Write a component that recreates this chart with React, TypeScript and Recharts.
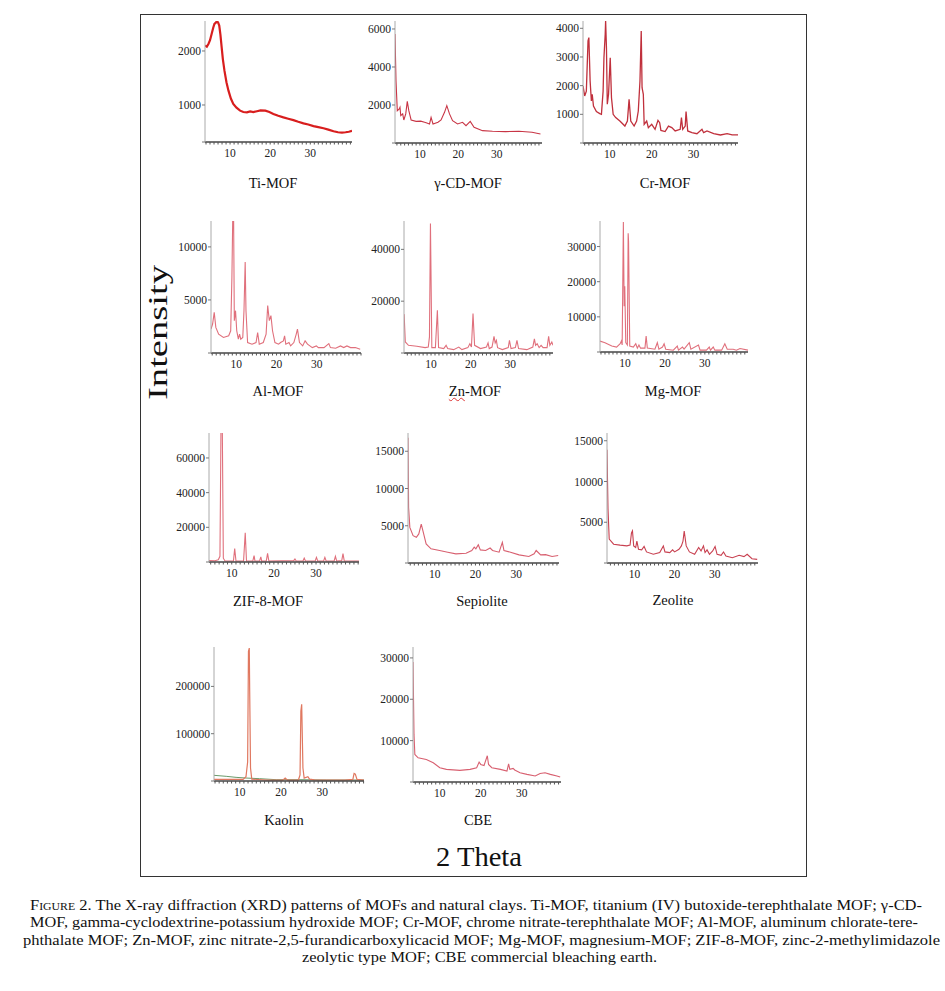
import { LineChart, Line, XAxis, YAxis } from "recharts";

type Pt = [number, number];

// 2θ / intensity pairs
const TI_MOF: Pt[] = [
  [3.75, 2100], [4.2, 2080], [4.6, 2130], [5.0, 2200], [5.4, 2315], [5.8, 2430], [6.1, 2500],
  [6.4, 2520], [6.7, 2550], [7.0, 2530], [7.3, 2470], [7.6, 2300], [7.9, 2070], [8.2, 1850],
  [8.6, 1635], [9.1, 1420], [9.6, 1265], [10.2, 1120], [10.8, 1020], [11.6, 950], [12.5, 895],
  [13.3, 870], [14.2, 865], [15.0, 880], [15.8, 870], [16.7, 885], [17.6, 900], [18.8, 895],
  [19.8, 870], [20.8, 835], [22.0, 800], [23.3, 770], [24.5, 745], [25.8, 720], [27.0, 690],
  [28.3, 660], [29.5, 640], [30.8, 610], [32.0, 590], [33.3, 570], [34.5, 545], [35.8, 515],
  [36.9, 495], [37.9, 490], [38.8, 495], [39.6, 505], [40.4, 520],
];

const GCD_MOF: Pt[] = [
  [3.5, 5735], [3.76, 3280], [4.1, 1700], [4.6, 1790], [4.8, 1880], [5.0, 1440], [5.5, 1530],
  [5.8, 1210], [6.3, 1530], [6.7, 2190], [7.1, 1700], [7.7, 1210], [9.0, 1140], [10.2, 1150],
  [11.2, 1090], [11.8, 1050], [12.5, 1000], [12.9, 1350], [13.4, 1000], [14.7, 1090],
  [15.5, 1210], [16.4, 1615], [17.0, 1965], [17.7, 1530], [18.5, 1175], [19.8, 1000],
  [21.1, 1090], [22.0, 910], [23.1, 1140], [24.1, 825], [26.3, 650], [28.9, 615], [32.3, 600],
  [35.8, 615], [39.2, 565], [41.4, 475],
];

const CR_MOF: Pt[] = [
  [3.6, 1990], [4.0, 1640], [4.4, 1810], [4.8, 3560], [5.0, 3675], [5.3, 2160], [5.6, 1465],
  [5.8, 1700], [6.1, 1290], [6.8, 1095], [7.6, 1025], [8.0, 1000], [8.4, 1810], [8.6, 2975],
  [8.9, 3790], [9.0, 4255], [9.2, 3325], [9.4, 1350], [9.7, 1700], [10.1, 2975], [10.4, 1580],
  [10.8, 1000], [11.4, 885], [12.4, 765], [13.6, 590], [14.2, 765], [14.6, 1520], [15.0, 765],
  [15.8, 590], [16.4, 765], [16.8, 1115], [17.2, 2160], [17.5, 3905], [17.7, 1930],
  [18.0, 1700], [18.2, 650], [18.8, 765], [19.2, 535], [20.0, 650], [20.8, 475], [21.5, 790],
  [21.9, 710], [22.2, 440], [23.2, 400], [24.0, 590], [24.8, 535], [25.6, 420], [26.8, 475],
  [27.1, 885], [27.4, 475], [28.0, 590], [28.2, 1095], [28.6, 420], [29.6, 360], [30.8, 325],
  [32.0, 475], [32.4, 360], [33.2, 420], [34.8, 325], [36.4, 280], [38.0, 325], [39.2, 280],
  [40.6, 280],
];

const AL_MOF: Pt[] = [
  [3.7, 2255], [4.1, 2730], [4.5, 3830], [4.9, 2410], [5.6, 1780], [6.8, 1460], [8.1, 1620],
  [8.6, 2095], [8.9, 7150], [9.15, 14000], [9.3, 14000], [9.5, 3045], [9.8, 3990], [10.1, 2095],
  [10.5, 1300], [10.8, 1780], [11.1, 1300], [11.6, 1460], [11.9, 3990], [12.2, 8575],
  [12.4, 3990], [12.8, 985], [13.9, 830], [14.9, 985], [15.3, 1935], [15.7, 830], [16.7, 985],
  [17.4, 1780], [17.8, 4465], [18.2, 3045], [18.6, 3520], [19.0, 2095], [19.6, 985],
  [20.5, 830], [21.0, 985], [21.7, 1145], [22.0, 1620], [22.3, 830], [23.1, 985], [23.5, 670],
  [24.3, 985], [24.9, 1780], [25.2, 2255], [25.7, 985], [26.5, 670], [27.1, 1145], [27.7, 830],
  [28.9, 510], [29.9, 670], [30.4, 510], [31.8, 510], [33.0, 890], [33.4, 510], [34.7, 450],
  [35.9, 670], [36.7, 510], [37.5, 670], [38.4, 510], [39.6, 510], [40.8, 355],
];

const ZN_MOF: Pt[] = [
  [3.2, 15000], [3.5, 4250], [4.3, 2960], [6.4, 2580], [8.5, 2070], [9.3, 2300], [9.6, 6200],
  [9.85, 50000], [10.2, 2070], [11.1, 2070], [11.6, 16500], [11.9, 2070], [13.2, 1700],
  [13.8, 2960], [14.2, 1700], [15.7, 1300], [17.0, 2300], [17.8, 1300], [19.3, 2070],
  [19.8, 3600], [20.2, 2300], [20.6, 15200], [21.0, 2960], [22.5, 1700], [24.0, 2300],
  [24.4, 3900], [24.7, 1700], [25.4, 2300], [25.9, 6450], [26.2, 3900], [26.5, 4900],
  [26.8, 2070], [28.0, 1300], [29.5, 2070], [29.8, 4900], [30.2, 1700], [31.3, 2070],
  [31.7, 4900], [32.1, 1700], [34.2, 1300], [35.7, 2300], [36.1, 5450], [36.4, 2960],
  [36.8, 3600], [37.3, 2070], [37.8, 2960], [38.3, 2070], [39.3, 2070], [39.7, 6450],
  [40.0, 2960], [40.5, 4250], [40.8, 2960],
];

const MG_MOF: Pt[] = [
  [3.75, 3100], [5.0, 2650], [6.7, 1700], [7.9, 1400], [8.8, 2350], [9.1, 3100], [9.3, 2000],
  [9.6, 37000], [9.8, 13000], [9.95, 18700], [10.2, 2650], [10.6, 2000], [10.8, 33800],
  [10.9, 31400], [11.2, 1700], [12.1, 1400], [12.7, 2350], [13.1, 1100], [13.5, 2000],
  [13.9, 1100], [15.0, 1100], [15.3, 4530], [15.6, 1100], [17.5, 800], [18.1, 2650],
  [18.5, 800], [19.4, 1400], [19.8, 2350], [20.2, 800], [22.1, 520], [23.1, 1700], [23.4, 520],
  [24.4, 1400], [24.8, 800], [26.1, 2650], [26.5, 800], [28.4, 2000], [28.8, 520], [30.4, 520],
  [31.1, 1400], [31.4, 520], [32.1, 1400], [32.5, 520], [34.2, 520], [35.0, 2350], [35.6, 800],
  [37.1, 800], [37.9, 520], [38.8, 1000], [40.8, 520],
];

const ZIF8_MOF: Pt[] = [
  [4.6, 800], [6.0, 700], [6.8, 1300], [7.2, 3300], [7.45, 80000], [7.75, 80000], [8.0, 2200],
  [8.4, 600], [10.4, 600], [10.7, 7700], [11.0, 600], [12.8, 600], [13.2, 16800], [13.5, 600],
  [15.0, 600], [15.3, 3700], [15.5, 600], [16.6, 600], [16.9, 3000], [17.1, 600], [18.2, 600],
  [18.5, 5000], [18.8, 600], [24.7, 800], [25.0, 1700], [25.3, 600], [26.9, 600], [27.2, 2200],
  [27.5, 600], [29.8, 600], [30.1, 2700], [30.4, 600], [31.8, 600], [32.1, 2700], [32.4, 600],
  [34.3, 600], [34.6, 3300], [34.9, 600], [36.1, 800], [36.4, 4800], [36.7, 600], [40.2, 600],
];

const SEPIOLITE: Pt[] = [
  [3.45, 16800], [3.6, 7450], [3.9, 4780], [4.7, 3670], [5.5, 3450], [6.1, 3900], [6.7, 5230],
  [7.1, 4340], [7.9, 2560], [9.1, 1900], [11.2, 1680], [13.2, 1450], [15.2, 1230], [17.7, 1300],
  [19.1, 1680], [19.7, 2120], [20.1, 1900], [20.7, 2450], [21.2, 1760], [22.5, 1680],
  [23.6, 2010], [24.2, 1680], [25.8, 1450], [26.6, 2780], [27.0, 1680], [28.6, 1450],
  [30.7, 1090], [33.1, 870], [34.4, 1230], [34.9, 1680], [36.0, 1090], [37.2, 1120],
  [38.8, 870], [40.3, 1000],
];

const ZEOLITE: Pt[] = [
  [3.15, 13900], [3.4, 6650], [3.7, 2930], [4.8, 2310], [6.4, 2190], [8.1, 2100], [8.9, 2190],
  [9.25, 3700], [9.5, 3950], [9.8, 2100], [10.3, 1900], [10.6, 2690], [11.0, 1690], [11.8, 1610],
  [12.4, 2030], [13.0, 1360], [14.7, 1070], [16.3, 1280], [17.2, 2100], [17.6, 1360],
  [18.8, 1280], [19.5, 1610], [20.0, 1360], [21.1, 1690], [21.7, 2100], [22.1, 2690],
  [22.4, 3930], [22.9, 2100], [23.7, 1360], [25.0, 1070], [26.0, 1900], [26.6, 1480],
  [27.2, 2100], [27.6, 1280], [28.1, 1610], [28.7, 1070], [29.5, 1480], [30.1, 2030],
  [30.6, 1070], [31.6, 940], [32.2, 1360], [32.8, 860], [34.4, 650], [36.1, 940], [37.3, 780],
  [38.1, 1070], [39.3, 530], [40.6, 450],
];

const KAOLIN: Pt[] = [
  [3.75, 3500], [10.8, 3500], [11.5, 9000], [11.9, 40000], [12.1, 274000], [12.3, 281000],
  [12.4, 190000], [12.6, 27500], [12.9, 4000], [16.5, 2000], [20.5, 2000], [21.0, 6000],
  [21.5, 2000], [24.2, 2000], [24.6, 13000], [24.8, 148000], [25.0, 162000], [25.3, 27500],
  [25.6, 6000], [26.5, 9000], [26.9, 4000], [28.1, 2500], [35.4, 2000], [37.4, 3500],
  [37.7, 16000], [38.0, 14500], [38.4, 3500], [40.1, 2000],
];

const KAOLIN_BASE: Pt[] = [
  [3.75, 12000], [6.7, 9900], [9.1, 7700], [11.5, 6300], [14.8, 4900], [18.8, 2800],
  [24.6, 2800], [31.1, 2100], [40.1, 2100],
];

const CBE: Pt[] = [
  [3.45, 29000], [3.7, 11450], [3.9, 6650], [4.7, 5850], [6.7, 5450], [8.4, 4650], [10.0, 3450],
  [11.6, 3050], [14.9, 2810], [17.4, 3050], [19.0, 3450], [19.6, 4800], [20.0, 4250],
  [20.8, 4000], [21.6, 6340], [21.9, 4250], [22.7, 3450], [24.8, 3050], [26.4, 2650],
  [26.8, 4400], [27.1, 3050], [27.9, 3300], [28.3, 2900], [29.6, 2250], [31.3, 1850],
  [33.3, 1450], [34.5, 2050], [35.7, 2250], [37.0, 1850], [38.6, 1450], [39.4, 1200],
];

const X_LABELS = [10, 20, 30];

const CAPTION = [
  "The X-ray diffraction (XRD) patterns of MOFs and natural clays. Ti-MOF, titanium (IV) butoxide-terephthalate MOF; γ-CD-",
  "MOF, gamma-cyclodextrine-potassium hydroxide MOF; Cr-MOF, chrome nitrate-terephthalate MOF; Al-MOF, aluminum chlorate-tere-",
  "phthalate MOF; Zn-MOF, zinc nitrate-2,5-furandicarboxylicacid MOF; Mg-MOF, magnesium-MOF; ZIF-8-MOF, zinc-2-methylimidazole",
  "zeolytic type MOF; CBE commercial bleaching earth.",
];

type Series = { pts: Pt[]; color: string; width: number };
type PanelSpec = {
  title: string;
  box: [number, number, number, number]; // plot area on the page
  xDomain: [number, number];
  yDomain: [number, number];
  yTicks: number[];
  series: Series[];
  label: [number, number];
  squiggle?: boolean;
};

const PINK = "#e0707c";

const PANELS: PanelSpec[] = [
  { title: "Ti-MOF", box: [205, 21, 352, 142], xDomain: [3.75, 40.4], yDomain: [315, 2555], yTicks: [315, 1000, 2000], series: [{ pts: TI_MOF, color: "#d81e1e", width: 2.2 }], label: [273, 183] },
  { title: "γ-CD-MOF", box: [395, 21, 542, 143], xDomain: [3.5, 41.8], yDomain: [0, 6420], yTicks: [0, 2000, 4000, 6000], series: [{ pts: GCD_MOF, color: "#c83545", width: 1.1 }], label: [468, 183] },
  { title: "Cr-MOF", box: [583, 21, 738, 143], xDomain: [3.6, 40.6], yDomain: [0, 4255], yTicks: [0, 1000, 2000, 3000, 4000], series: [{ pts: CR_MOF, color: "#c0303c", width: 1.3 }], label: [665, 183] },
  { title: "Al-MOF", box: [211, 221, 361, 353], xDomain: [3.7, 41.0], yDomain: [0, 12440], yTicks: [0, 5000, 10000], series: [{ pts: AL_MOF, color: PINK, width: 1.1 }], label: [278, 391] },
  { title: "Zn-MOF", box: [404, 221, 553, 353], xDomain: [3.17, 40.8], yDomain: [0, 50950], yTicks: [0, 20000, 40000], series: [{ pts: ZN_MOF, color: PINK, width: 1.1 }], label: [475, 391], squiggle: true },
  { title: "Mg-MOF", box: [600, 221, 748, 352], xDomain: [3.75, 40.8], yDomain: [0, 37270], yTicks: [0, 10000, 20000, 30000], series: [{ pts: MG_MOF, color: PINK, width: 1.1 }], label: [673, 391] },
  { title: "ZIF-8-MOF", box: [209, 433, 359, 562], xDomain: [4.6, 40.2], yDomain: [0, 74400], yTicks: [0, 20000, 40000, 60000], series: [{ pts: ZIF8_MOF, color: PINK, width: 1.1 }], label: [268, 601] },
  { title: "Sepiolite", box: [408, 433, 559, 563], xDomain: [3.45, 40.5], yDomain: [0, 17450], yTicks: [0, 5000, 10000, 15000], series: [{ pts: SEPIOLITE, color: "#d86070", width: 1.1 }], label: [482, 601] },
  { title: "Zeolite", box: [607, 433, 758, 563], xDomain: [3.15, 40.8], yDomain: [0, 15950], yTicks: [0, 5000, 10000, 15000], series: [{ pts: ZEOLITE, color: "#c84050", width: 1.1 }], label: [673, 600] },
  { title: "Kaolin", box: [214, 647, 364, 781], xDomain: [3.75, 40.1], yDomain: [0, 283300], yTicks: [0, 100000, 200000], series: [{ pts: KAOLIN_BASE, color: "#6a9a6a", width: 1 }, { pts: KAOLIN, color: "#e07860", width: 1.2 }], label: [284, 820] },
  { title: "CBE", box: [413, 647, 561, 782], xDomain: [3.45, 39.6], yDomain: [0, 32640], yTicks: [0, 10000, 20000, 30000], series: [{ pts: CBE, color: "#d86070", width: 1.1 }], label: [478, 820] },
];

const SERIF = "'Liberation Serif', 'Times New Roman', serif";
const GUTTER = 52;
const PAD = 3;
const X_AXIS_H = 24;

function Panel({ p }: { p: PanelSpec }) {
  const [x0, y0, x1, y1] = p.box;
  const w = x1 - x0 + GUTTER + PAD;
  const h = y1 - y0 + PAD + X_AXIS_H;
  // minor ticks every degree along the bottom edge
  const minor: number[] = [];
  for (let v = Math.ceil(p.xDomain[0]); v <= Math.floor(p.xDomain[1]); v++) minor.push(v);
  const tickFont = { fontSize: 11.5, fill: "#222", fontFamily: SERIF };
  return (
    <>
      <div style={{ position: "absolute", left: x0 - GUTTER, top: y0 - PAD }}>
        <LineChart width={w} height={h} margin={{ top: PAD, right: PAD, bottom: 0, left: 0 }}>
          <XAxis
            xAxisId="b"
            type="number"
            dataKey="x"
            domain={p.xDomain}
            allowDataOverflow
            ticks={minor}
            interval={0}
            tickFormatter={(v: number) => (X_LABELS.includes(v) ? String(v) : "")}
            tick={tickFont}
            tickSize={2.5}
            tickMargin={4}
            height={X_AXIS_H}
            axisLine={{ stroke: "#444", strokeWidth: 1.5 }}
            tickLine={{ stroke: "#555" }}
          />
          <XAxis
            xAxisId="t"
            orientation="top"
            type="number"
            domain={p.xDomain}
            allowDataOverflow
            height={0}
            tick={false}
            tickLine={false}
            axisLine={{ stroke: "#3a3a3a", strokeWidth: 2.5 }}
          />
          <YAxis
            yAxisId="l"
            type="number"
            domain={p.yDomain}
            allowDataOverflow
            ticks={p.yTicks}
            interval={0}
            tickFormatter={(v: number) => (v === p.yDomain[0] ? "" : String(v))}
            tick={tickFont}
            tickSize={3}
            tickMargin={1}
            width={GUTTER}
            axisLine={{ stroke: "#aaa" }}
            tickLine={{ stroke: "#777" }}
          />
          <YAxis
            yAxisId="r"
            orientation="right"
            type="number"
            domain={p.yDomain}
            allowDataOverflow
            width={0}
            tick={false}
            tickLine={false}
            axisLine={{ stroke: "#888", strokeWidth: 1.5 }}
          />
          {p.series.map((s, i) => (
            <Line
              key={i}
              xAxisId="b"
              yAxisId="l"
              data={s.pts.map(([x, y]) => ({ x, y }))}
              dataKey="y"
              type="linear"
              stroke={s.color}
              strokeWidth={s.width}
              dot={false}
              activeDot={false}
              isAnimationActive={false}
            />
          ))}
        </LineChart>
      </div>
      <div
        style={{
          position: "absolute",
          left: p.label[0],
          top: p.label[1],
          transform: "translate(-50%, -50%)",
          whiteSpace: "nowrap",
          fontFamily: SERIF,
          fontSize: 14.5,
          color: "#111",
        }}
      >
        {p.squiggle ? (
          <>
            <span style={{ textDecoration: "underline wavy #d33", textDecorationThickness: 1 }}>Zn</span>
            -MOF
          </>
        ) : (
          p.title
        )}
      </div>
    </>
  );
}

export default function App() {
  return (
    <div style={{ position: "absolute", left: 0, top: 0, width: 945, height: 991, background: "#fff" }}>
      <div
        style={{
          position: "absolute",
          left: 140,
          top: 14,
          width: 667,
          height: 863,
          border: "1px solid #333",
          boxSizing: "border-box",
        }}
      />
      {PANELS.map((p) => (
        <Panel key={p.title} p={p} />
      ))}
      <svg style={{ position: "absolute", left: 0, top: 0 }} width={945} height={991}>
        <text
          x={0}
          y={0}
          transform="translate(167 400) rotate(-90)"
          fontFamily={SERIF}
          fontSize={28}
          fill="#111"
          textLength={135}
          lengthAdjust="spacingAndGlyphs"
        >
          Intensity
        </text>
        <text x={436} y={866} fontFamily={SERIF} fontSize={28} fill="#111" textLength={86} lengthAdjust="spacingAndGlyphs">
          2 Theta
        </text>
        <text x={30} y={910} fontFamily={SERIF} fontSize={14} fill="#111" textLength={892} lengthAdjust="spacingAndGlyphs">
          <tspan style={{ fontVariant: "small-caps" }}>Figure</tspan> 2. {CAPTION[0]}
        </text>
        <text x={30} y={927} fontFamily={SERIF} fontSize={14} fill="#111" textLength={888} lengthAdjust="spacingAndGlyphs">
          {CAPTION[1]}
        </text>
        <text x={23} y={945} fontFamily={SERIF} fontSize={14} fill="#111" textLength={917} lengthAdjust="spacingAndGlyphs">
          {CAPTION[2]}
        </text>
        <text x={302} y={962} fontFamily={SERIF} fontSize={14} fill="#111" textLength={355} lengthAdjust="spacingAndGlyphs">
          {CAPTION[3]}
        </text>
      </svg>
    </div>
  );
}
